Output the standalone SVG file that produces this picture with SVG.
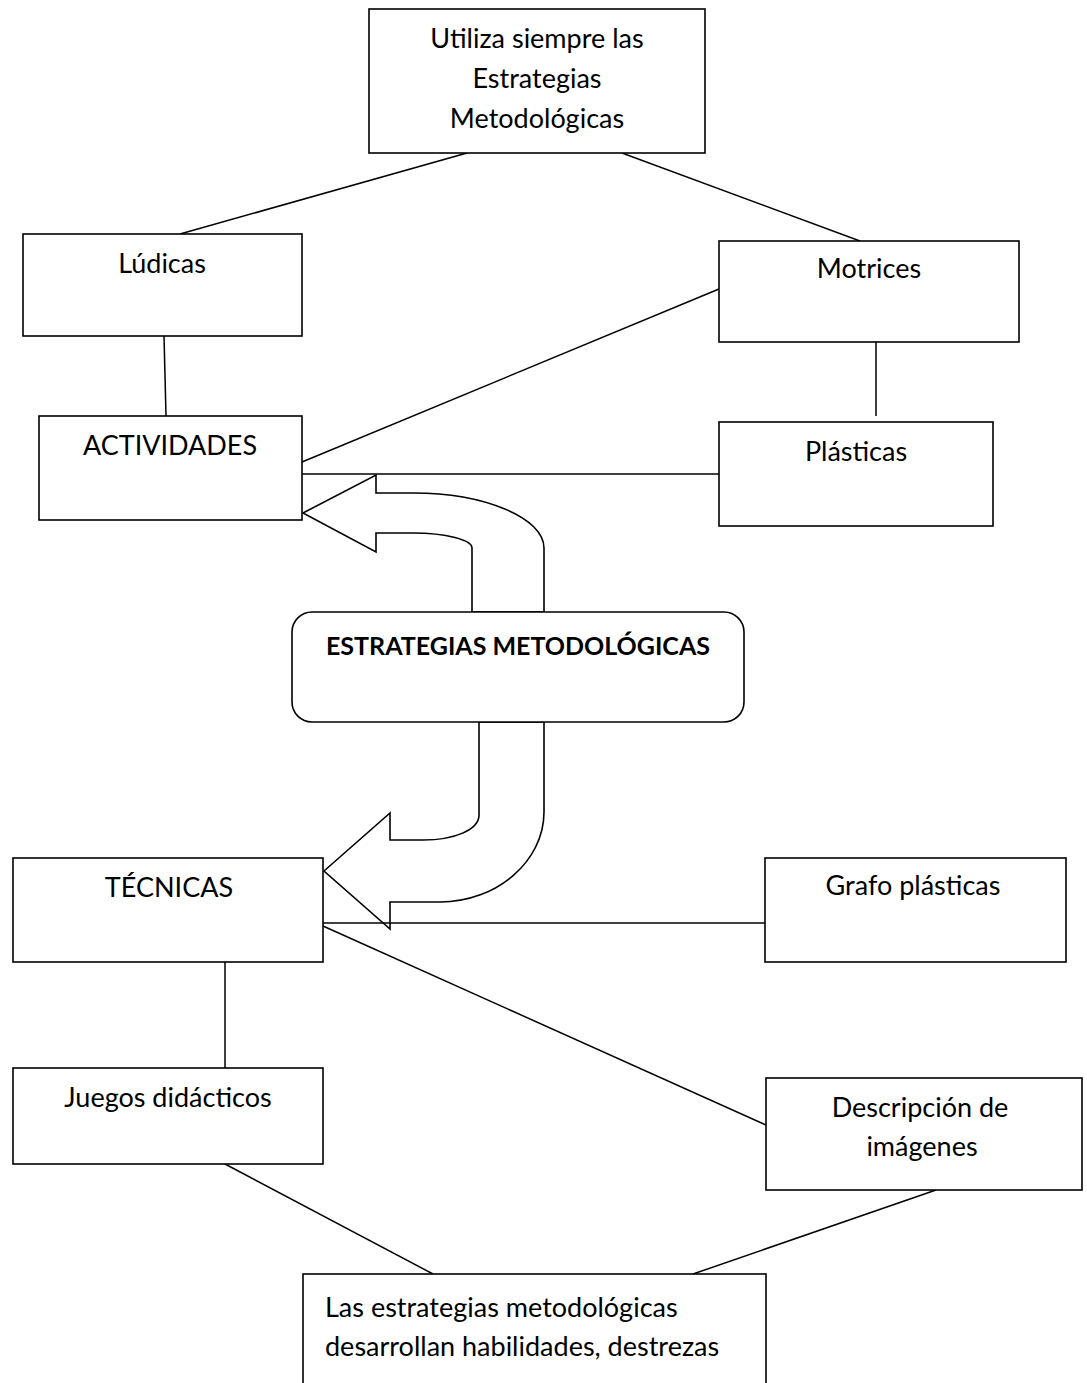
<svg xmlns="http://www.w3.org/2000/svg" width="1087" height="1383" viewBox="0 0 1087 1383">
<style>
  .box { fill: #ffffff; stroke: #000000; stroke-width: 1.6; }
  .ln { stroke: #000000; stroke-width: 1.5; fill: none; }
  .arw { fill: #ffffff; stroke: #000000; stroke-width: 1.6; stroke-linejoin: miter; }
  .t { font-family: Lato, "Liberation Sans", sans-serif; font-size: 27px; fill: #000000; }
  .c { text-anchor: middle; }
  .b { font-weight: bold; font-size: 25px; }
</style>
<rect width="1087" height="1383" fill="#ffffff"/>
<g id="connectors">
  <path class="arw" d="M 303,513 L 376,475 L 376,493 L 413,493 C 485,493 544,518 544,548 L 544,612 L 472,612 L 472,548 C 472,540 446,533 413,533 L 376,533 L 376,552 Z"/>
  <path class="arw" d="M 324,871 L 390,813 L 390,840 L 423,840 C 454,840 479,830 479,815 L 479,722 L 544,722 L 544,812 C 544,861 497,902 440,902 L 390,902 L 390,929 Z"/>
  <line class="ln" x1="467" y1="153" x2="180" y2="234"/>
  <line class="ln" x1="622" y1="153" x2="860" y2="241"/>
  <line class="ln" x1="164" y1="336" x2="166" y2="416"/>
  <line class="ln" x1="876" y1="342" x2="876" y2="416"/>
  <line class="ln" x1="719" y1="289" x2="302" y2="462"/>
  <line class="ln" x1="302" y1="474" x2="719" y2="474"/>
  <line class="ln" x1="323" y1="923" x2="765" y2="923"/>
  <line class="ln" x1="323" y1="926" x2="766" y2="1125"/>
  <line class="ln" x1="225" y1="962" x2="225" y2="1068"/>
  <line class="ln" x1="225" y1="1164" x2="433" y2="1274"/>
  <line class="ln" x1="936" y1="1190" x2="693" y2="1274"/>
</g>
<g id="n-utiliza">
  <rect class="box" x="369" y="9" width="336" height="144"/>
  <text class="t c" x="537" y="48">Utiliza siempre las</text>
  <text class="t c" x="537" y="88">Estrategias</text>
  <text class="t c" x="537" y="128">Metodológicas</text>
</g>
<g id="n-ludicas">
  <rect class="box" x="23" y="234" width="279" height="102"/>
  <text class="t c" x="162" y="273">Lúdicas</text>
</g>
<g id="n-motrices">
  <rect class="box" x="719" y="241" width="300" height="101"/>
  <text class="t c" x="869" y="278">Motrices</text>
</g>
<g id="n-actividades">
  <rect class="box" x="39" y="416" width="263" height="104"/>
  <text class="t c" x="170" y="455">ACTIVIDADES</text>
</g>
<g id="n-plasticas">
  <rect class="box" x="719" y="422" width="274" height="104"/>
  <text class="t c" x="856" y="461">Plásticas</text>
</g>
<g id="n-estrategias">
  <rect class="box" x="292" y="612" width="452" height="110" rx="20" ry="20"/>
  <text class="t c b" x="518" y="655">ESTRATEGIAS METODOLÓGICAS</text>
</g>
<g id="n-tecnicas">
  <rect class="box" x="13" y="858" width="310" height="104"/>
  <text class="t c" x="169" y="897">TÉCNICAS</text>
</g>
<g id="n-grafo">
  <rect class="box" x="765" y="858" width="301" height="104"/>
  <text class="t c" x="913" y="895">Grafo plásticas</text>
</g>
<g id="n-juegos">
  <rect class="box" x="13" y="1068" width="310" height="96"/>
  <text class="t c" x="168" y="1107">Juegos didácticos</text>
</g>
<g id="n-descripcion">
  <rect class="box" x="766" y="1078" width="316" height="112"/>
  <text class="t c" x="920" y="1117">Descripción de</text>
  <text class="t c" x="922" y="1156">imágenes</text>
</g>
<g id="n-final">
  <rect class="box" x="303" y="1274" width="463" height="130"/>
  <text class="t" x="325" y="1317">Las estrategias metodológicas</text>
  <text class="t" x="325" y="1356">desarrollan habilidades, destrezas</text>
</g>
</svg>
